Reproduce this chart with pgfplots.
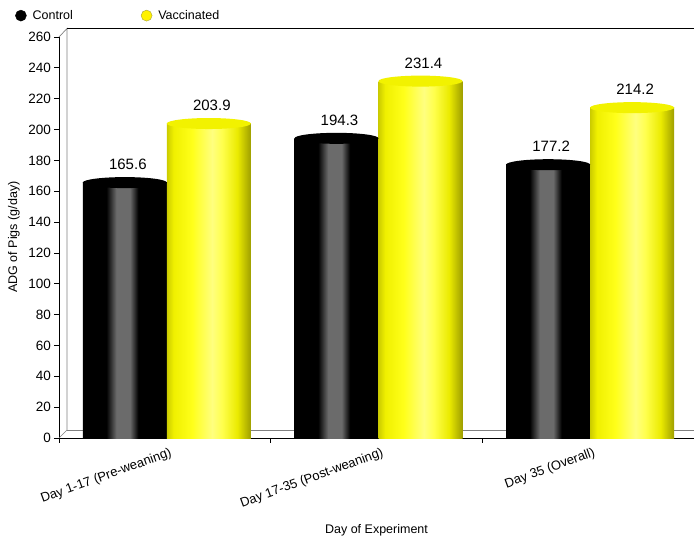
\documentclass[border=0pt]{standalone}
\usepackage{pgfplots}
\pgfplotsset{compat=1.18}
\usepackage{pgfplotstable}
\usepackage{fontspec}
\setmainfont{Liberation Sans}

\definecolor{framegray}{HTML}{808080}
\definecolor{vacctop}{HTML}{F2F200}

% Cylinder bodies: the stops between 25bp and 75bp span the width of a bar
\pgfdeclarehorizontalshading{ctrlbody}{100bp}{%
  color(0bp)=(black); color(25bp)=(black); color(39bp)=(black);
  color(45bp)=(black!58); color(53bp)=(black!58); color(58bp)=(black);
  color(75bp)=(black); color(100bp)=(black)}
\pgfdeclarehorizontalshading{vaccbody}{100bp}{%
  color(0bp)=(yellow!80!black); color(25bp)=(yellow!80!black);
  color(29bp)=(yellow!94!black); color(40bp)=(yellow!90!white);
  color(52bp)=(yellow!50!white); color(58bp)=(yellow!70!white);
  color(67bp)=(yellow!92!black); color(75bp)=(yellow!62!black);
  color(100bp)=(yellow!62!black)}

% Cylinder lids
\pgfdeclareplotmark{cyltop}{%
  \pgfpathellipse{\pgfpointorigin}{\pgfqpoint{42pt}{0pt}}{\pgfqpoint{0pt}{5.5pt}}%
  \pgfusepathqfill}

\pgfplotstableread{
x ctrl vacc
0 165.6 203.9
1 194.3 231.4
2 177.2 214.2
}\adgdata

\begin{document}
\begin{tikzpicture}
\useasboundingbox (0,0) rectangle (694pt,539pt);
\begin{axis}[
  at={(59pt,101pt)}, anchor=south west,
  scale only axis, width=635pt, height=401pt,
  xmin=-0.5, xmax=2.5, ymin=0, ymax=260,
  clip=false,
  axis x line*=bottom, axis y line*=left,
  axis line style={black, line width=0.8pt, -},
  tick align=outside,
  major tick length=4.5pt,
  tick style={black, line width=0.7pt},
  ytick={0,20,...,260},
  xtick={-0.5,0.5,1.5,2.5},
  x tick label as interval,
  xticklabels={Day 1-17 (Pre-weaning),Day 17-35 (Post-weaning),Day 35 (Overall)},
  xticklabel style={rotate=20, anchor=north east, font=\fontsize{13}{15}\selectfont, xshift=6pt, yshift=-2pt},
  yticklabel style={font=\fontsize{13.5}{15}\selectfont},
  /pgf/number format/assume math mode=true,
  xlabel={Day of Experiment},
  ylabel={ADG of Pigs (g/day)},
  xlabel style={at={(axis description cs:0.5,-0.2294)}, anchor=center, font=\fontsize{12.5}{14}\selectfont},
  ylabel style={at={(axis description cs:-0.0709,0.501)}, anchor=center, font=\fontsize{12.5}{14}\selectfont},
  legend style={at={(axis description cs:-0.074,1.077)}, anchor=north west,
    draw=none, fill=none, legend columns=2,
    font=\fontsize{12.5}{14}\selectfont,
    nodes={inner xsep=6pt},
    /tikz/every even column/.append style={column sep=62pt}},
  legend cell align=left,
]
% legend keys
\addlegendimage{legend image code/.code={\fill[black] (5pt,0pt) circle (5.5pt);}}
\addlegendentry{Control}
\addlegendimage{legend image code/.code={\filldraw[fill=yellow, draw=yellow!60!black, line width=0.4pt] (5pt,0pt) circle (5.5pt);}}
\addlegendentry{Vaccinated}

% back wall and floor of the box
\draw[framegray, line width=0.7pt] (rel axis cs:0,0) -- ([shift={(8pt,8pt)}]rel axis cs:0,0)
   -- ([shift={(8pt,8.5pt)}]rel axis cs:0,1) -- (rel axis cs:0,1);
\draw[framegray, line width=0.7pt] ([shift={(8pt,8pt)}]rel axis cs:0,0) -- ([shift={(0pt,8pt)}]rel axis cs:1,0);
\draw[black, line width=0.8pt] ([shift={(8pt,8.5pt)}]rel axis cs:0,1) -- ([shift={(0pt,8.5pt)}]rel axis cs:1,1);

% cylinder bodies, one bar per plot so each gets its own shading
\pgfplotsinvokeforeach{0,1,2}{
  \addplot[ybar, bar width=84pt, bar shift=-40pt, draw=none, shade, shading=ctrlbody,
    restrict x to domain=#1:#1,
    point meta=y, nodes near coords={\pgfmathprintnumber[fixed,fixed zerofill,precision=1]{\pgfplotspointmeta}},
    nodes near coords style={anchor=base, yshift=13pt, xshift=-37pt, inner sep=0pt, black, font=\fontsize{15}{18}\selectfont}]
    table[x=x, y=ctrl] {\adgdata};
  \addplot[ybar, bar width=84pt, bar shift=44pt, draw=none, shade, shading=vaccbody,
    restrict x to domain=#1:#1,
    point meta=y, nodes near coords={\pgfmathprintnumber[fixed,fixed zerofill,precision=1]{\pgfplotspointmeta}},
    nodes near coords style={anchor=base, yshift=13pt, xshift=47pt, inner sep=0pt, black, font=\fontsize{15}{18}\selectfont}]
    table[x=x, y=vacc] {\adgdata};
}
% cylinder lids
\addplot[only marks, mark=cyltop, mark options={fill=black, draw=none, xshift=-40pt}]
  table[x=x, y=ctrl] {\adgdata};
\addplot[only marks, mark=cyltop, mark options={fill=vacctop, draw=none, xshift=44pt}]
  table[x=x, y=vacc] {\adgdata};
\end{axis}
\end{tikzpicture}
\end{document}
